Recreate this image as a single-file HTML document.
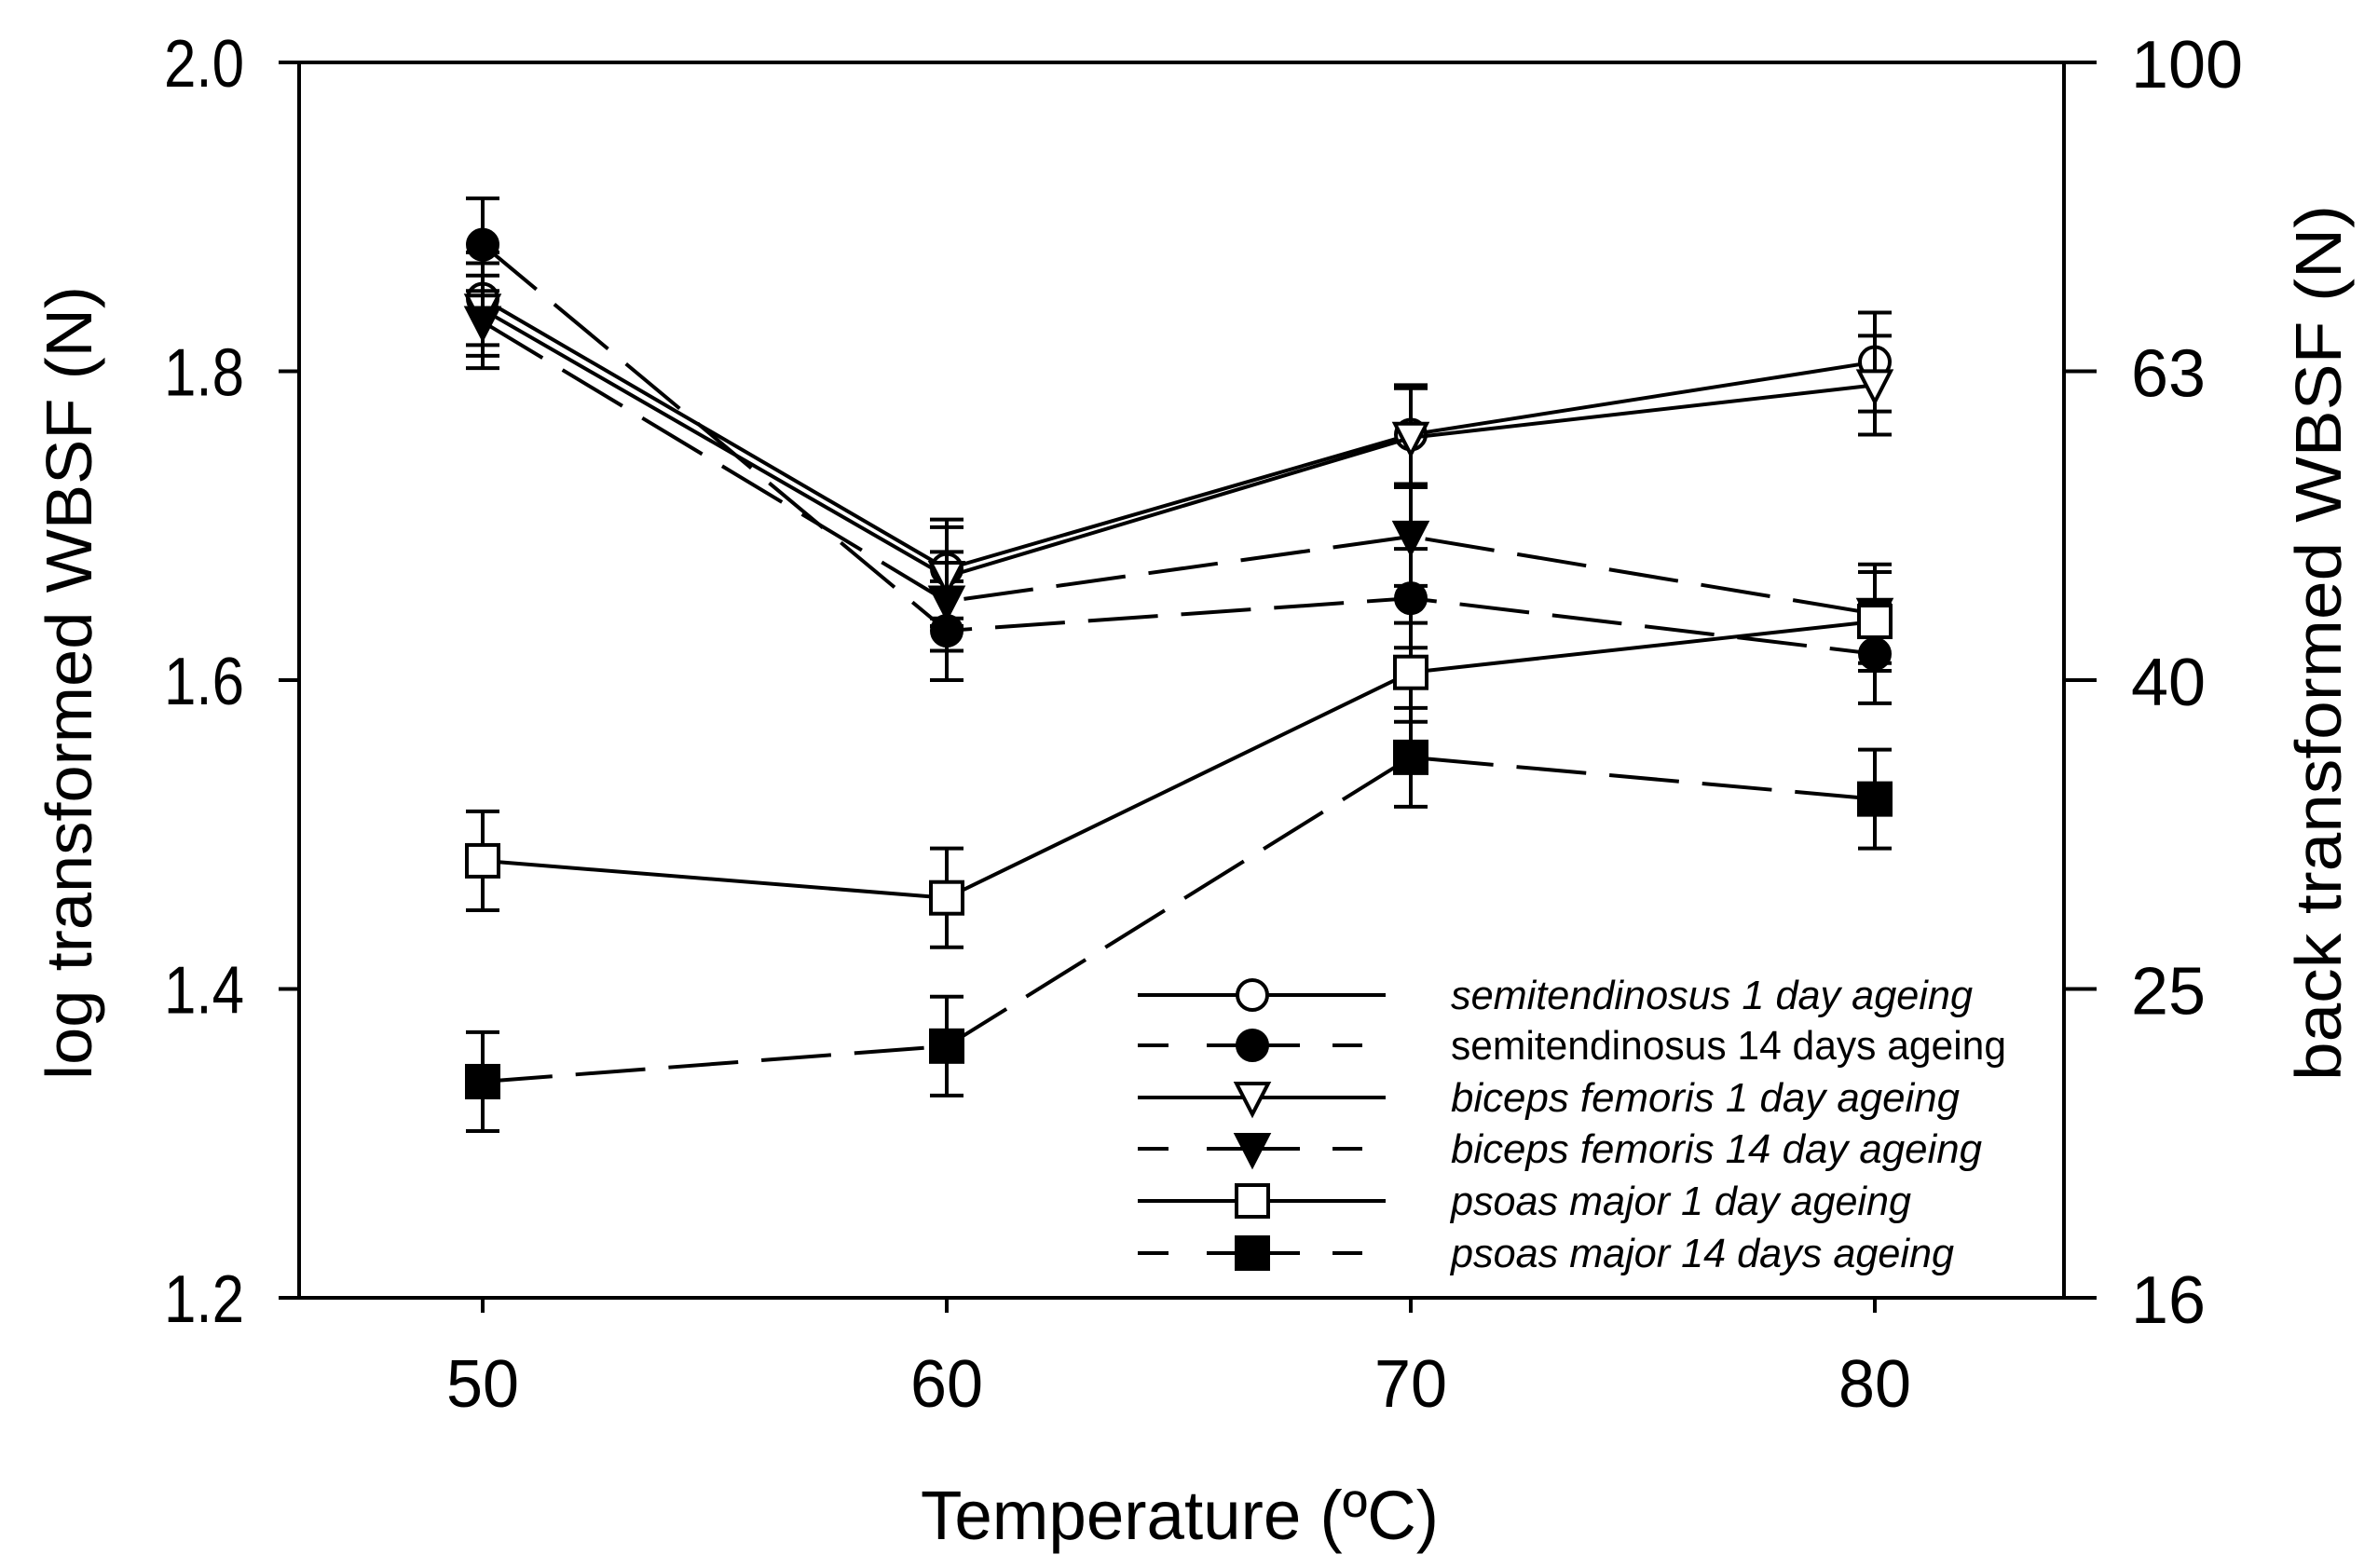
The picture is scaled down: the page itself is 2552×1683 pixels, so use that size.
<!DOCTYPE html>
<html><head><meta charset="utf-8">
<style>
html,body{margin:0;padding:0;background:#fff;}
svg{display:block;}
text{font-family:"Liberation Sans",Arial,sans-serif;fill:#000;}
</style></head>
<body>
<svg id="chart" width="2552" height="1683" viewBox="0 0 2552 1683" xmlns="http://www.w3.org/2000/svg">
<g id="axes"></g>
<g id="series"></g>
<g id="legend"></g>
</svg>
<script>
const temps = [50, 60, 70, 80];
const xTickLabels = ["50", "60", "70", "80"];
const yTicks = [1.2, 1.4, 1.6, 1.8, 2.0];
const yTickLabels = ["1.2", "1.4", "1.6", "1.8", "2.0"];
const rightTickLabels = ["16", "25", "40", "63", "100"];
const st1 = [1.847, 1.672, 1.759, 1.806];
const st14 = [1.882, 1.632, 1.653, 1.617];
const bf1 = [1.840, 1.667, 1.757, 1.791];
const bf14 = [1.832, 1.651, 1.693, 1.643];
const pm1 = [1.483, 1.459, 1.605, 1.638];
const pm14 = [1.340, 1.363, 1.550, 1.523];
const st1Err = [0.03, 0.032, 0.032, 0.032];
const st14Err = [0.03, 0.032, 0.032, 0.032];
const bf1Err = [0.03, 0.032, 0.032, 0.032];
const bf14Err = [0.03, 0.032, 0.032, 0.032];
const pm1Err = [0.032, 0.032, 0.032, 0.032];
const pm14Err = [0.032, 0.032, 0.032, 0.032];
const seriesNames = ["semitendinosus 1 day ageing","semitendinosus 14 days ageing","biceps femoris 1 day ageing","biceps femoris 14 day ageing","psoas major 1 day ageing","psoas major 14 days ageing"];

const NS = "http://www.w3.org/2000/svg";
const L = 321, R = 2215, T = 67, B = 1393;
function xs(t){ return 518 + (t - 50) / 10 * 498; }
function ys(v){ return T + (2.0 - v) / 0.8 * (B - T); }
function mk(tag, attrs, parent){
  const e = document.createElementNS(NS, tag);
  for (const k in attrs) e.setAttribute(k, attrs[k]);
  parent.appendChild(e); return e;
}
const axes = document.getElementById('axes');
const sg = document.getElementById('series');
const lg = document.getElementById('legend');

// frame
let fr = mk('rect', {x:L, y:T, width:R-L, height:B-T, fill:'none', stroke:'#000', 'stroke-width':4}, axes);



yTicks.forEach((v,i)=>{
  const y = ys(v);
  let t = mk('line', {x1:L-22, x2:L, y1:y, y2:y, stroke:'#000','stroke-width':4}, axes);
  
  
  let tx = mk('text', {x:262, y:y+26, 'text-anchor':'end','font-size':72, textLength:86, lengthAdjust:'spacingAndGlyphs'}, axes);
  tx.textContent = yTickLabels[i];
  
  
  let t2 = mk('line', {x1:R, x2:R+35, y1:y, y2:y, stroke:'#000','stroke-width':4}, axes);
  
  
  let tx2 = mk('text', {x:2287, y:y+27, 'font-size':72}, axes);
  tx2.textContent = rightTickLabels[i];
  tx2.setAttribute('textLength', rightTickLabels[i].length*40);
  tx2.setAttribute('lengthAdjust', 'spacingAndGlyphs');
  
  
});
temps.forEach((t,i)=>{
  const x = xs(t);
  let tk = mk('line', {x1:x, x2:x, y1:B, y2:B+16, stroke:'#000','stroke-width':4}, axes);
  
  
  let tx = mk('text', {x:x, y:1510, 'text-anchor':'middle','font-size':72, textLength:78, lengthAdjust:'spacingAndGlyphs'}, axes);
  tx.textContent = xTickLabels[i];
  
  
});
let xt = mk('text', {x:1266, y:1652, 'text-anchor':'middle','font-size':74, textLength:556, lengthAdjust:'spacingAndGlyphs'}, axes);
xt.textContent = 'Temperature (ºC)';


let ylt = mk('text', {x:0, y:0, 'text-anchor':'middle','font-size':70, textLength:852, lengthAdjust:'spacingAndGlyphs', transform:'translate(98,733) rotate(-90)'}, axes);
ylt.textContent = 'log transformed WBSF (N)';


let yrt = mk('text', {x:0, y:0, 'text-anchor':'middle','font-size':70, textLength:940, lengthAdjust:'spacingAndGlyphs', transform:'translate(2512,690) rotate(-90)'}, axes);
yrt.textContent = 'back transformed WBSF (N)';



function marker(kind, filled, x, y, parent){
  const f = filled ? '#000' : '#fff';
  let m;
  if (kind==='circle') m = mk('circle', {cx:x, cy:y, r:16, fill:f, stroke:'#000','stroke-width':4}, parent);
  else if (kind==='tri') m = mk('polygon', {points:`${x-17},${y-15} ${x+17},${y-15} ${x},${y+18}`, fill:f, stroke:'#000','stroke-width':4}, parent);
  else m = mk('rect', {x:x-17, y:y-17, width:34, height:34, fill:f, stroke:'#000','stroke-width':4}, parent);
  return m;
}
const seriesList = [
  {vals:st1, err:st1Err, kind:'circle', filled:false, dash:null, name:'series-st-1day'},
  {vals:st14, err:st14Err, kind:'circle', filled:true, dash:'75 25', name:'series-st-14day'},
  {vals:bf1, err:bf1Err, kind:'tri', filled:false, dash:null, name:'series-bf-1day'},
  {vals:bf14, err:bf14Err, kind:'tri', filled:true, dash:'75 25', name:'series-bf-14day'},
  {vals:pm1, err:pm1Err, kind:'rect', filled:false, dash:null, name:'series-pm-1day'},
  {vals:pm14, err:pm14Err, kind:'rect', filled:true, dash:'75 25', name:'series-pm-14day'}
];
seriesList.forEach(s=>{
  const g = mk('g', {}, sg);
  
  
  const pts = s.vals.map((v,i)=>xs(temps[i])+','+ys(v)).join(' ');
  const pl = mk('polyline', {points:pts, fill:'none', stroke:'#000','stroke-width':4}, g);
  if (s.dash) pl.setAttribute('stroke-dasharray', s.dash);
  
  
  s.vals.forEach((v,i)=>{
    const x = xs(temps[i]), y1 = ys(v + s.err[i]), y2 = ys(v - s.err[i]);
    const eb = mk('path', {d:`M${x},${y1}V${y2}M${x-18},${y1}H${x+18}M${x-18},${y2}H${x+18}`, stroke:'#000','stroke-width':4, fill:'none'}, g);
    
    
  });
  s.vals.forEach((v,i)=>{
    const m = marker(s.kind, s.filled, xs(temps[i]), ys(v), g);
    
    
  });
});

// legend
const rowY = [1068, 1122, 1178, 1233, 1289, 1345];
seriesList.forEach((s,i)=>{
  const y = rowY[i];
  const g = mk('g', {}, lg);
  
  
  if (s.dash) {
    mk('path', {d:`M1221,${y}H1254M1295,${y}H1395M1388,${y}H1388M1430,${y}H1462`, stroke:'#000','stroke-width':4}, g);
  } else {
    mk('line', {x1:1221, x2:1487, y1:y, y2:y, stroke:'#000','stroke-width':4}, g);
  }
  marker(s.kind, s.filled, 1344, y, g);
  const tx = mk('text', {x:1557, y:y+15, 'font-size':44, 'font-style': (i===1 ? 'normal' : 'italic')}, g);
  tx.setAttribute('lengthAdjust', 'spacingAndGlyphs');
  const widths = [560, 596, 546, 570, 494, 540];
  tx.setAttribute('textLength', widths[i]);
  tx.textContent = seriesNames[i];
  
  
});
</script>
</body></html>
